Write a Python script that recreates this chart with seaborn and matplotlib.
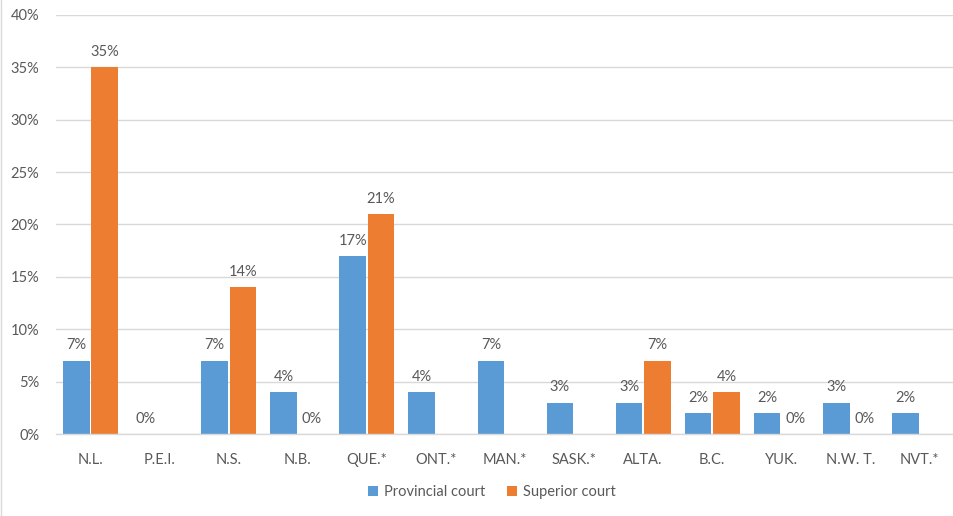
import numpy as np
import pandas as pd
import matplotlib
matplotlib.use("Agg")
import matplotlib.pyplot as plt
import seaborn as sns

categories = ["N.L.", "P.E.I.", "N.S.", "N.B.", "QUE.*", "ONT.*", "MAN.*",
              "SASK.*", "ALTA.", "B.C.", "YUK.", "N.W. T.", "NVT.*"]
provincial = [7, 0, 7, 4, 17, 4, 7, 3, 3, 2, 2, 3, 2]
superior = [35, np.nan, 14, 0, 21, np.nan, np.nan, np.nan, 7, 4, 0, 0, np.nan]
series_names = ["Provincial court", "Superior court"]
colors = ["#5B9BD5", "#ED7D31"]
yticks = [0, 5, 10, 15, 20, 25, 30, 35, 40]

sns.set_theme(style="white")
plt.rcParams["font.family"] = ["Lato", "DejaVu Sans"]
text_color = "#595959"
fs = 10.5

df = pd.DataFrame({
    "Province": categories * 2,
    "Series": [series_names[0]] * len(categories) + [series_names[1]] * len(categories),
    "Value": list(provincial) + list(superior),
})

fig = plt.figure(figsize=(9.54, 5.16), dpi=100)
ax = fig.add_axes([56 / 954, (516 - 434) / 516, (954 - 56) / 954, (434 - 15) / 516])

sns.barplot(data=df, x="Province", y="Value", hue="Series", order=categories,
            hue_order=series_names, palette=colors, width=0.82, gap=0.06,
            errorbar=None, saturation=1, ax=ax, legend=True,
            edgecolor="none")

for cont in ax.containers:
    labels = []
    for bar in cont:
        h = bar.get_height()
        labels.append("" if np.isnan(h) else f"{h:.0f}%")
    ax.bar_label(cont, labels=labels, padding=6, fontsize=fs, color=text_color)

ax.set_ylim(0, 40)
ax.set_yticks(yticks)
ax.set_yticklabels([f"{t}%" for t in yticks])
ax.set_xlim(-0.5, len(categories) - 0.5)
ax.yaxis.grid(True, color="#D9D9D9", linewidth=1)
ax.set_axisbelow(True)
for s in ["top", "right", "left"]:
    ax.spines[s].set_visible(False)
ax.spines["bottom"].set_color("#D9D9D9")
ax.spines["bottom"].set_linewidth(1)
ax.tick_params(axis="both", length=0, labelsize=fs, colors=text_color)
ax.tick_params(axis="x", pad=14)
ax.tick_params(axis="y", pad=12)
ax.set_xlabel("")
ax.set_ylabel("")

leg = ax.legend(loc="center", bbox_to_anchor=(0.5 - 13 / 898, -58 / 419),
                ncol=2, frameon=False, fontsize=fs, handlelength=0.7, handleheight=0.7,
                handletextpad=0.4, columnspacing=1.5)
for t in leg.get_texts():
    t.set_color(text_color)

fig.add_artist(plt.Line2D([1 / 954, 1 / 954], [0, 1], color="#D9D9D9", lw=1))

fig.savefig("out.png", dpi=100)
